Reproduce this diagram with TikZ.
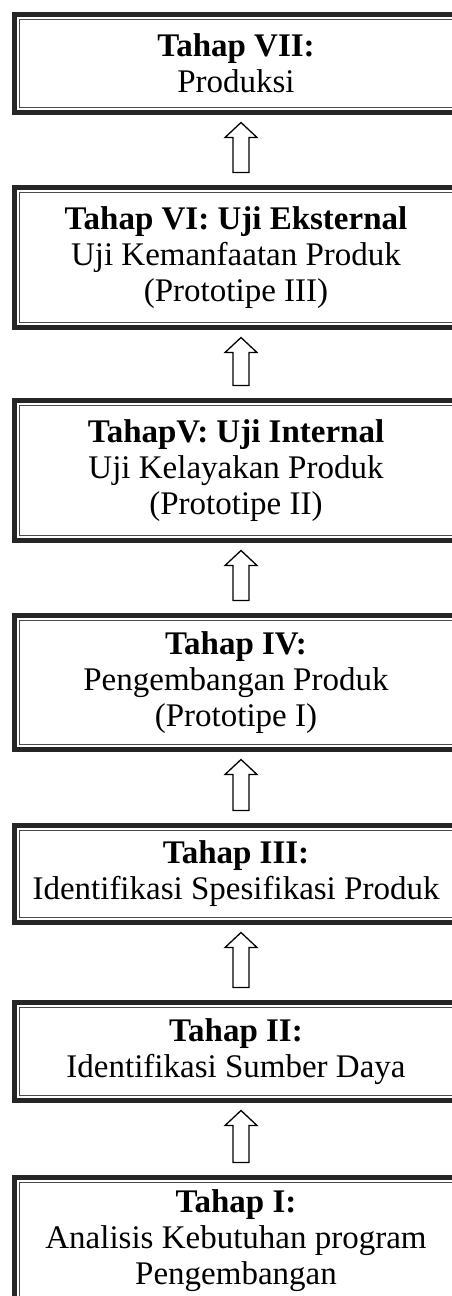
\documentclass[tikz,border=0pt]{standalone}
\usepackage{fontspec}
\setmainfont{Liberation Serif}
\usetikzlibrary{calc}

\begin{document}
\begin{tikzpicture}[x=1pt,y=-1pt]
\tikzset{
  stageBox/.style={
    rectangle,
                   draw=black!85,
                   line width=5pt,
                   minimum width=443pt,
                   inner sep=2pt,
                   align=center,
                   font=\fontsize{33}{36}\selectfont,
                   path picture={\draw[black!70, line width=1.5pt]
                     ([shift={(5pt,-5pt)}]path picture bounding box.north west) rectangle
                     ([shift={(-5pt,5pt)}]path picture bounding box.south east);}
    },
  upArrow/.style={
    draw, line width=1.3pt, fill=white, line join=miter,
    to path={($(\tikztostart)+(-8pt,0)$) -- ($(\tikztotarget)+(-8pt,-15pt)$)
      -- ($(\tikztotarget)+(-16pt,-15pt)$) -- (\tikztotarget)
      -- ($(\tikztotarget)+(16pt,-15pt)$) -- ($(\tikztotarget)+(8pt,-15pt)$)
      -- ($(\tikztostart)+(8pt,0)$) -- cycle}
    }
}
    \useasboundingbox (0,0) rectangle (451,1296);

    \node (s7)[stageBox, minimum height=98pt] at (236,63.5) {\textbf{Tahap VII:}\\Produksi};
    \node (s6)[stageBox, minimum height=140pt] at (236,257.5) {\textbf{Tahap VI: Uji Eksternal}\\Uji Kemanfaatan Produk\\(Prototipe III)};
    \node (s5)[stageBox, minimum height=140pt] at (236,470.5) {\textbf{TahapV: Uji Internal}\\Uji Kelayakan Produk\\(Prototipe II)};
    \node (s4)[stageBox, minimum height=134pt] at (236,682.5) {\textbf{Tahap IV:}\\Pengembangan Produk\\(Prototipe I)};
    \node (s3)[stageBox, minimum height=97pt] at (236,874) {\textbf{Tahap III:}\\Identifikasi Spesifikasi Produk};
    \node (s2)[stageBox, minimum height=98pt] at (236,1051.5) {\textbf{Tahap II:}\\Identifikasi Sumber Daya};
    \node (s1)[stageBox, minimum height=126pt] at (236,1240.5) {\textbf{Tahap I:}\\Analisis Kebutuhan program\\Pengembangan};

    \draw[upArrow] ([xshift=5pt,yshift=12.5pt]s1.north) to ([xshift=5pt,yshift=-7.5pt]s2.south);
    \draw[upArrow] ([xshift=5pt,yshift=12.5pt]s2.north) to ([xshift=5pt,yshift=-7.5pt]s3.south);
    \draw[upArrow] ([xshift=5pt,yshift=12.5pt]s3.north) to ([xshift=5pt,yshift=-7.5pt]s4.south);
    \draw[upArrow] ([xshift=5pt,yshift=12.5pt]s4.north) to ([xshift=5pt,yshift=-7.5pt]s5.south);
    \draw[upArrow] ([xshift=5pt,yshift=12.5pt]s5.north) to ([xshift=5pt,yshift=-7.5pt]s6.south);
    \draw[upArrow] ([xshift=5pt,yshift=12.5pt]s6.north) to ([xshift=5pt,yshift=-7.5pt]s7.south);

\end{tikzpicture}
\end{document}
